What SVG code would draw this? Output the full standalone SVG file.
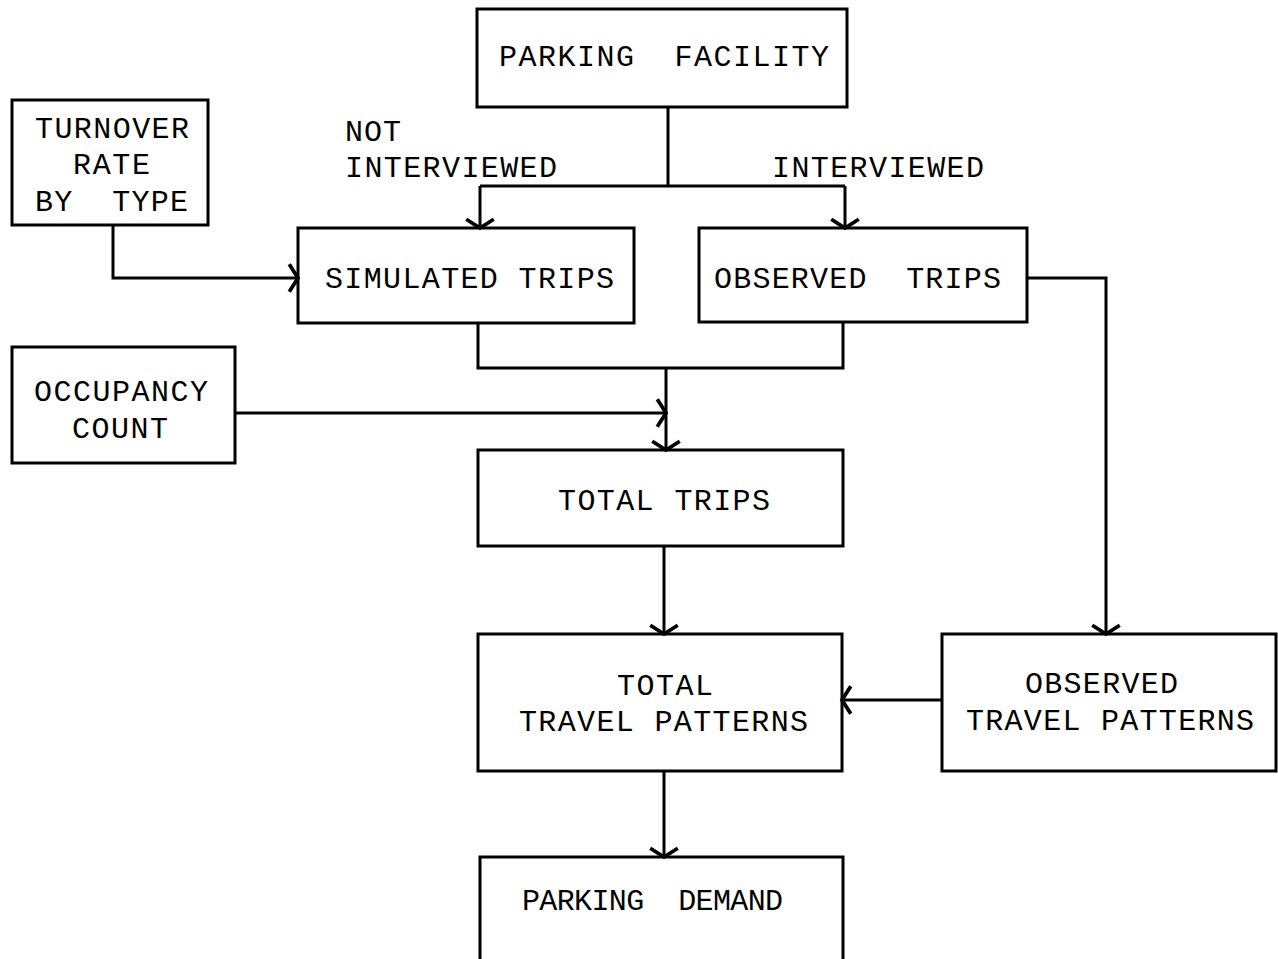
<svg xmlns="http://www.w3.org/2000/svg" width="1278" height="959" viewBox="0 0 1278 959">
<style>
.box{fill:none;stroke:#000;stroke-width:3}
.c{fill:none;stroke:#000;stroke-width:3}
text{font-family:"Liberation Mono","Courier New",monospace;font-size:30px;fill:#000}
</style>
<defs>
<marker id="a" markerUnits="userSpaceOnUse" markerWidth="30" markerHeight="30" viewBox="-12 -12 24 24" refX="0" refY="0" orient="auto">
<path d="M-7,-11 L0,0 L-7,11" fill="none" stroke="#000" stroke-width="3"/>
</marker>
</defs>
<rect width="1278" height="959" fill="#fff"/>
<g id="connectors">
<path class="c" d="M668,107 V186 M480,186 H845"/>
<path class="c" d="M480,186 V228" marker-end="url(#a)"/>
<path class="c" d="M845,186 V228" marker-end="url(#a)"/>
<path class="c" d="M113,225 V278 H298" marker-end="url(#a)"/>
<path class="c" d="M478,323 V368 H843 V322"/>
<path class="c" d="M666,368 V450" marker-end="url(#a)"/>
<path class="c" d="M235,413 H666" marker-end="url(#a)"/>
<path class="c" d="M664,546 V634" marker-end="url(#a)"/>
<path class="c" d="M1027,278 H1106 V634" marker-end="url(#a)"/>
<path class="c" d="M942,700 H842" marker-end="url(#a)"/>
<path class="c" d="M664,771 V857" marker-end="url(#a)"/>
</g>
<g id="parking-facility"><rect class="box" x="477" y="9" width="370" height="98"/><text x="499" y="66" textLength="330" lengthAdjust="spacing" xml:space="preserve">PARKING  FACILITY</text></g>
<g id="turnover"><rect class="box" x="12" y="100" width="196" height="125"/><text x="35" y="138" textLength="154" lengthAdjust="spacing">TURNOVER</text><text x="73" y="174" textLength="77" lengthAdjust="spacing">RATE</text><text x="35" y="211" textLength="153" lengthAdjust="spacing" xml:space="preserve">BY  TYPE</text></g>
<g id="labels"><text x="345" y="141" textLength="56" lengthAdjust="spacing">NOT</text><text x="345" y="177" textLength="212" lengthAdjust="spacing">INTERVIEWED</text><text x="772" y="177" textLength="212" lengthAdjust="spacing">INTERVIEWED</text></g>
<g id="simulated-trips"><rect class="box" x="298" y="228" width="336" height="95"/><text x="325" y="288" textLength="289" lengthAdjust="spacing">SIMULATED TRIPS</text></g>
<g id="observed-trips"><rect class="box" x="699" y="228" width="328" height="94"/><text x="714" y="288" textLength="287" lengthAdjust="spacing" xml:space="preserve">OBSERVED  TRIPS</text></g>
<g id="occupancy"><rect class="box" x="12" y="347" width="223" height="116"/><text x="34" y="401" textLength="174" lengthAdjust="spacing">OCCUPANCY</text><text x="72" y="438" textLength="96" lengthAdjust="spacing">COUNT</text></g>
<g id="total-trips"><rect class="box" x="478" y="450" width="365" height="96"/><text x="558" y="510" textLength="212" lengthAdjust="spacing">TOTAL TRIPS</text></g>
<g id="total-travel-patterns"><rect class="box" x="478" y="634" width="364" height="137"/><text x="617" y="695" textLength="96" lengthAdjust="spacing">TOTAL</text><text x="519" y="731" textLength="289" lengthAdjust="spacing">TRAVEL PATTERNS</text></g>
<g id="observed-travel-patterns"><rect class="box" x="942" y="634" width="334" height="137"/><text x="1025" y="693" textLength="153" lengthAdjust="spacing">OBSERVED</text><text x="966" y="730" textLength="288" lengthAdjust="spacing">TRAVEL PATTERNS</text></g>
<g id="parking-demand"><path class="box" d="M480,965 V857 H843 V965"/><text x="522" y="910" textLength="261" lengthAdjust="spacing" xml:space="preserve">PARKING  DEMAND</text></g>
</svg>
